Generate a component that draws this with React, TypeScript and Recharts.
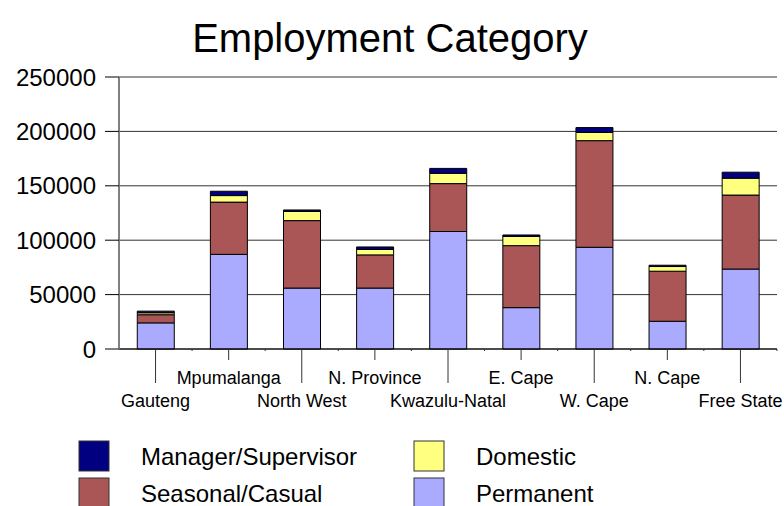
import React from "react";
import { BarChart, Bar, XAxis, YAxis, CartesianGrid } from "recharts";

const regions = ["Gauteng", "Mpumalanga", "North West", "N. Province", "Kwazulu-Natal", "E. Cape", "W. Cape", "N. Cape", "Free State"];
const permanent = [24000, 87000, 56000, 56000, 108000, 38000, 93500, 25500, 73500];
const seasonal = [7500, 48000, 62000, 30500, 44000, 57000, 98000, 46000, 68000];
const domestic = [1800, 6000, 8500, 5000, 9500, 8500, 7500, 4300, 15500];
const manager = [1500, 4000, 1300, 2300, 4500, 1300, 4500, 1200, 5500];
const yTicks = [0, 50000, 100000, 150000, 200000, 250000];

const seriesNames = ["Permanent", "Seasonal/Casual", "Domestic", "Manager/Supervisor"];
const seriesColors = ["#AAAAFF", "#AB5656", "#FFFF80", "#000080"];
const legendOrder = [3, 2, 1, 0];

const data = regions.map((r, i) => ({
  region: r,
  Permanent: permanent[i],
  "Seasonal/Casual": seasonal[i],
  Domestic: domestic[i],
  "Manager/Supervisor": manager[i],
}));

const FONT = "'Liberation Sans', Arial, sans-serif";

const CatTick = (props: any) => {
  const { x, y, payload, index } = props;
  const upper = index % 2 === 1;
  const lineEnd = upper ? 11 : 34;
  const base = upper ? 35 : 58;
  return (
    <g>
      <line x1={x} y1={y} x2={x} y2={y + lineEnd} stroke="#333" strokeWidth={1} />
      <line x1={x + 36.5} y1={y} x2={x + 36.5} y2={y + 2} stroke="#333" strokeWidth={1} />
      <text x={x} y={y + base} textAnchor="middle" fontSize={18} fontFamily={FONT} fill="#000">
        {payload.value}
      </text>
    </g>
  );
};

export default function App() {
  return (
    <div style={{ position: "absolute", left: 0, top: 0, width: 784, height: 506, background: "#fff" }}>
      <BarChart
        width={784}
        height={506}
        data={data}
        margin={{ top: 77, right: 7, left: 0, bottom: 0 }}
        barCategoryGap="25%"
      >
        <CartesianGrid vertical={false} stroke="#333" strokeWidth={1} />
        <XAxis
          dataKey="region"
          height={157}
          interval={0}
          tickLine={false}
          tickSize={0}
          tickMargin={0}
          axisLine={{ stroke: "#000", strokeWidth: 1 }}
          tick={<CatTick />}
        />
        <YAxis
          width={119}
          domain={[0, 250000]}
          ticks={yTicks}
          interval={0}
          tickSize={14}
          tickMargin={9}
          tickLine={{ stroke: "#000" }}
          axisLine={{ stroke: "#808080", strokeWidth: 2 }}
          tick={{ fontSize: 24, fontFamily: FONT, fill: "#000" }}
        />
        {seriesNames.map((name, i) => (
          <Bar
            key={name}
            dataKey={name}
            stackId="a"
            fill={seriesColors[i]}
            stroke="#000"
            strokeWidth={1}
            isAnimationActive={false}
          />
        ))}
      </BarChart>
      <svg
        width={784}
        height={506}
        style={{ position: "absolute", left: 0, top: 0, pointerEvents: "none" }}
      >
        <text x={390} y={52} textAnchor="middle" fontSize={40} fontFamily={FONT} fill="#000">
          Employment Category
        </text>
        {legendOrder.map((si, k) => {
          const col = k % 2;
          const row = Math.floor(k / 2);
          const sx = col === 0 ? 79 : 414;
          const sy = row === 0 ? 441 : 478;
          return (
            <g key={si}>
              <rect x={sx} y={sy} width={30} height={30} fill={seriesColors[si]} stroke="#333" strokeWidth={1} />
              <text x={sx + 62} y={sy + 24} fontSize={24} fontFamily={FONT} fill="#000">
                {seriesNames[si]}
              </text>
            </g>
          );
        })}
      </svg>
    </div>
  );
}
